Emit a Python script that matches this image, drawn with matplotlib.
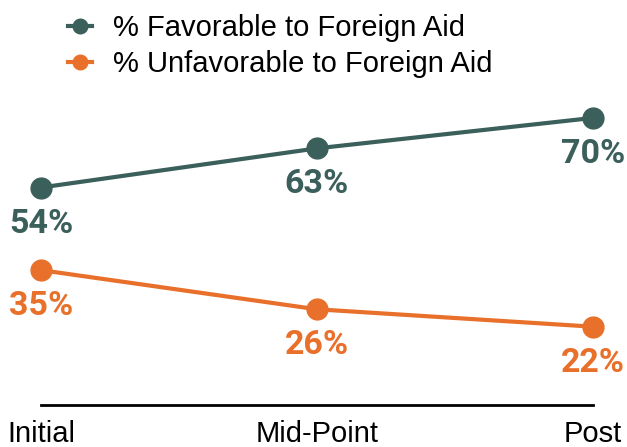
import matplotlib
matplotlib.use('Agg')
import matplotlib.pyplot as plt

# Survey waves and share of respondents
stages = ['Initial', 'Mid-Point', 'Post']
favorable = [54, 63, 70]
unfavorable = [35, 26, 22]

TEAL = '#3b5f5b'
ORANGE = '#e8702a'

fig = plt.figure(figsize=(6.27, 4.47), dpi=100)
ax = fig.add_axes([41/627, 42/447, 552/627, 304.5/447])

x = range(len(stages))
series = [
    (favorable, TEAL, '% Favorable to Foreign Aid'),
    (unfavorable, ORANGE, '% Unfavorable to Foreign Aid'),
]
for values, color, label in series:
    ax.plot(x, values, color=color, linewidth=3, marker='o', markersize=15,
            label=label, clip_on=False, zorder=3)
    for xi, v in zip(x, values):
        ax.annotate('%d%%' % v, (xi, v), xytext=(0, -26), textcoords='offset points',
                    ha='center', va='center', color=color, fontsize=24.5,
                    fontweight='bold', family='Roboto')

ax.set_xlim(0, 2)
ax.set_ylim(4, 74)
ax.set_xticks(list(x))
ax.set_xticklabels(stages, fontsize=21, family='Liberation Sans')
ax.tick_params(axis='x', length=0, pad=11)
ax.set_yticks([])
for side in ['left', 'right', 'top']:
    ax.spines[side].set_visible(False)
ax.spines['bottom'].set_linewidth(2)

handles, labels = ax.get_legend_handles_labels()
fig.legend(handles, labels, loc='upper left', bbox_to_anchor=(42/627, 1.027),
           frameon=False, handlelength=0.8, handletextpad=0.75,
           labelspacing=0.28, markerscale=0.7,
           prop={'family': 'Liberation Sans', 'size': 21})

fig.savefig('out.png', dpi=100)
